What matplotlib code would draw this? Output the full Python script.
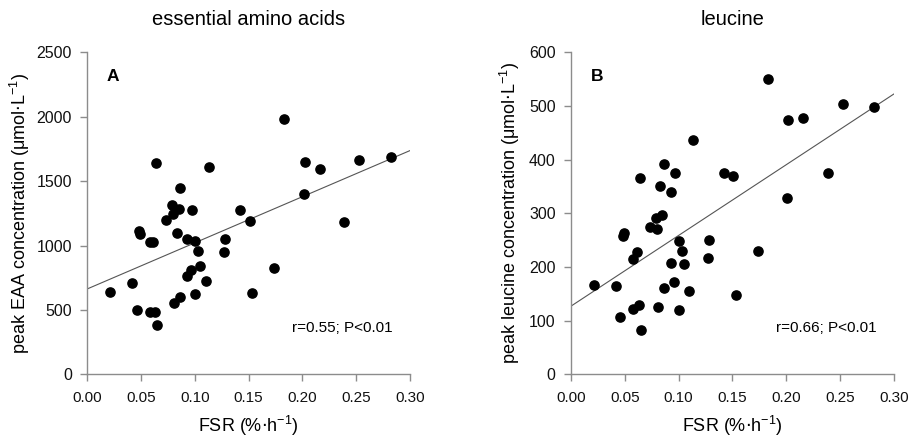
#!/usr/bin/env python3
"""Peak EAA / leucine concentration vs FSR scatter with regression lines."""

import matplotlib

matplotlib.use("Agg")
import matplotlib.pyplot as plt
import numpy as np

plt.rcParams["font.family"] = ["Liberation Sans", "DejaVu Sans"]

# FSR (%/h), shared by both panels
fsr = [0.021, 0.042, 0.046, 0.048, 0.049, 0.058, 0.061, 0.058, 0.063, 0.064,
       0.065, 0.073, 0.079, 0.080, 0.085, 0.086, 0.083, 0.081, 0.086, 0.093,
       0.097, 0.100, 0.103, 0.093, 0.096, 0.105, 0.100, 0.110, 0.113, 0.127,
       0.128, 0.142, 0.151, 0.153, 0.174, 0.183, 0.202, 0.201, 0.216, 0.239,
       0.253, 0.282]

eaa = [642, 712, 499, 1115, 1090, 1027, 1027, 487, 487, 1643,
       386, 1198, 1312, 1245, 1284, 1444, 1100, 556, 598, 1051,
       1276, 1038, 958, 763, 810, 844, 624, 727, 1612, 952,
       1053, 1276, 1193, 629, 826, 1980, 1651, 1403, 1597, 1185,
       1667, 1687]

leucine = [166, 165, 106, 258, 263, 214, 227, 122, 129, 365,
           83, 275, 292, 271, 296, 391, 351, 125, 160, 340,
           375, 249, 230, 208, 172, 205, 120, 155, 437, 216,
           250, 375, 369, 147, 229, 550, 473, 329, 478, 376,
           504, 499]

# regression lines as drawn (intercept, slope)
eaa_fit = (663, 3580)
leu_fit = (127, 1317)

panels = [
    {"y": eaa, "fit": eaa_fit, "ymax": 2500, "yticks": [0, 500, 1000, 1500, 2000, 2500],
     "title": "essential amino acids", "letter": "A", "stat": "r=0.55; P<0.01",
     "ylabel": r"peak EAA concentration ($\mathregular{\mu}$mol$\cdot$L$^{\mathregular{-1}}$)",
     "ylab_x": -0.172},
    {"y": leucine, "fit": leu_fit, "ymax": 600, "yticks": [0, 100, 200, 300, 400, 500, 600],
     "title": "leucine", "letter": "B", "stat": "r=0.66; P<0.01",
     "ylabel": r"peak leucine concentration ($\mathregular{\mu}$mol$\cdot$L$^{\mathregular{-1}}$)",
     "ylab_x": -0.153},
]

W, H = 911, 441
fig = plt.figure(figsize=(W / 100, H / 100), dpi=100)
lefts = [87.3, 571.0]
ax_w, ax_top, ax_bot = 322.7, 52.3, 374.3
grey = "#8c8c8c"

for left, p in zip(lefts, panels):
    ax = fig.add_axes([left / W, 1 - ax_bot / H, ax_w / W, (ax_bot - ax_top) / H])
    ax.scatter(fsr, p["y"], s=44, color="black", zorder=3, clip_on=False)
    xs = np.array([0.0, 0.30])
    ax.plot(xs, p["fit"][0] + p["fit"][1] * xs, color="#555555", lw=0.8, zorder=2)

    ax.set_xlim(0, 0.30)
    ax.set_ylim(0, p["ymax"])
    ax.set_xticks([0, 0.05, 0.10, 0.15, 0.20, 0.25, 0.30])
    ax.set_xticklabels(["0.00", "0.05", "0.10", "0.15", "0.20", "0.25", "0.30"])
    ax.set_yticks(p["yticks"])
    for side in ("top", "right"):
        ax.spines[side].set_visible(False)
    for side in ("left", "bottom"):
        ax.spines[side].set_color(grey)
        ax.spines[side].set_linewidth(1.0)
    ax.tick_params(axis="both", color=grey, length=5, width=1.0, labelcolor="#111111")
    ax.tick_params(axis="x", labelsize=11, pad=7)
    ax.tick_params(axis="y", labelsize=11.5, pad=6)

    ax.set_xlabel(r"FSR (%$\cdot$h$^{\mathregular{-1}}$)", fontsize=13)
    ax.xaxis.set_label_coords(0.5, -0.123)
    ax.set_ylabel(p["ylabel"], fontsize=13)
    ax.yaxis.set_label_coords(p["ylab_x"], 0.5)
    ax.text(0.5, 1.085, p["title"], transform=ax.transAxes, fontsize=14.5,
            ha="center", va="baseline")

    ax.text(0.08, 0.926, p["letter"], transform=ax.transAxes, fontsize=12.5,
            fontweight="bold", ha="center", va="center")
    ax.text(0.947, 0.144, p["stat"], transform=ax.transAxes, fontsize=11,
            ha="right", va="center")

fig.savefig("out.png", dpi=100)
